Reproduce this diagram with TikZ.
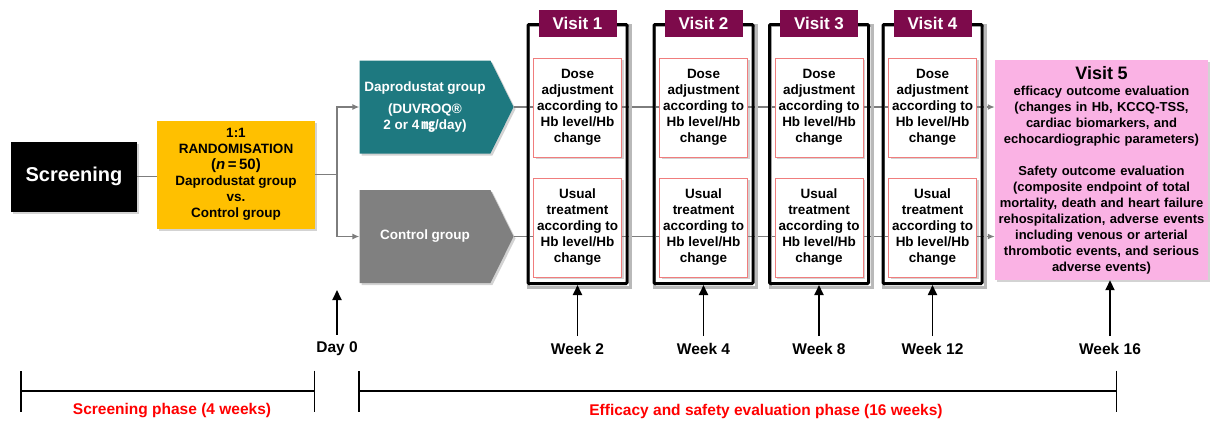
\documentclass[tikz,border=0pt]{standalone}
\usepackage{fontspec}
\setmainfont{Liberation Sans}
\newfontfamily\cjk{Noto Sans CJK SC}
\usepackage{tikz}
\usetikzlibrary{arrows.meta,shapes.symbols,shadows,backgrounds}

\definecolor{scrblack}{RGB}{0,0,0}
\definecolor{randyellow}{RGB}{255,192,0}
\definecolor{daproteal}{RGB}{30,121,128}
\definecolor{ctrlgray}{RGB}{128,128,128}
\definecolor{visitred}{RGB}{125,10,75}
\definecolor{visitpink}{RGB}{250,178,228}
\definecolor{boxline}{RGB}{240,125,125}
\definecolor{linkgray}{RGB}{125,125,125}

\begin{document}
\begin{tikzpicture}[x=1pt,y=-1pt,
    font=\bfseries\fontsize{13.5}{16}\selectfont,
    shade/.style={drop shadow={shadow xshift=2pt,shadow yshift=-2pt,opacity=.35}},
    scrbox/.style={fill=scrblack,text=white,minimum width=126,minimum height=70,
        font=\bfseries\fontsize{20}{24}\selectfont,shade},
    randbox/.style={fill=randyellow,minimum width=158,minimum height=108,
        align=center,inner sep=2pt,shade},
    groupbox/.style={shape=signal,signal to=east,signal pointer angle=127,
        text=white,minimum width=154,minimum height=93,align=center,shade},
    visitframe/.style={draw=black,line width=3pt,rounded corners=1pt,
        minimum width=99,minimum height=259},
    visitlbl/.style={fill=visitred,text=white,minimum width=78,minimum height=27,
        inner sep=0pt,font=\bfseries\fontsize{17}{20}\selectfont},
    inbox/.style={draw=boxline,fill=white,minimum width=88,minimum height=99,
        inner sep=1pt,align=center,shade},
    pinkbox/.style={fill=visitpink,minimum width=213,minimum height=220,
        text width=212,inner sep=0.5pt,align=center,
        font=\bfseries\fontsize{13}{16}\selectfont,shade},
    timelbl/.style={font=\bfseries\fontsize{15.5}{18}\selectfont,inner sep=2pt},
    phaselbl/.style={text=red,font=\bfseries\fontsize{15.5}{18}\selectfont,inner sep=2pt},
    grayline/.style={draw=linkgray,line width=1.5pt},
    grayarrow/.style={grayline,-{Latex[length=7pt,width=6pt]}},
    uparrow/.style={line width=1.8pt,-{Triangle[length=10pt,width=9pt]}},
    phasebar/.style={line width=1.5pt,{Bar[width=41pt]}-{Bar[width=41pt]}}]

\useasboundingbox (0,0) rectangle (1210,421);

\node[scrbox] (scr) at (74,176.5) {Screening};
\node[randbox] (rand) at (236,174.5) {1:1\\RANDOMISATION\\{\fontsize{15}{17}\selectfont(\textit{n}\,=\,50)}\\Daprodustat group\\vs.\\Control group};

\node[groupbox,fill=daproteal] (dapro) at (425,107) {Daprodustat group\\[6pt](DUVROQ®\\2 or 4\,{\cjk ㎎}/day)};
\node[groupbox,fill=ctrlgray] (ctrl) at (425,236.5) {Control group};

\draw[grayline] (scr.east) -- (scr.east -| rand.west);
\draw[grayline] (rand.east) -- ++(22,0) coordinate (split);
\draw[grayarrow] (split) |- (dapro.west);
\draw[grayarrow] (split) |- (ctrl.west);

\node[pinkbox] (v5) at (1101.5,170) {{\fontsize{18}{20}\selectfont Visit 5}\\efficacy outcome evaluation\\(changes in Hb, KCCQ-TSS,\\cardiac biomarkers, and\\echocardiographic parameters)\\[16pt]Safety outcome evaluation\\(composite endpoint of total\\mortality, death and heart failure\\rehospitalization, adverse events\\including venous or arterial\\thrombotic events, and serious\\adverse events)};

\foreach \i/\x/\w in {1/577.5/2,2/703.5/4,3/819/8,4/932.5/12}{
    \node[visitframe] (f\i) at (\x,154) {};
    \node[visitlbl] (v\i) at (\x,23.5) {Visit \i};
    \node[inbox] (d\i) at (\x,107.5) {Dose\\adjustment\\according to\\Hb level/Hb\\change};
    \node[inbox] (u\i) at (\x,227.5) {Usual\\treatment\\according to\\Hb level/Hb\\change};
    \node[timelbl] (w\i) at (\x,349) {Week \w};
    \draw[uparrow,shorten <=5pt] (w\i.north) -- (f\i.south);
}

\begin{scope}[on background layer]
\draw[grayarrow] (dapro.east) -- (dapro.east -| v5.west);
\draw[grayarrow] (ctrl.east) -- (ctrl.east -| v5.west);
\foreach \i in {1,2,3,4}
    \draw[gray!55,line width=3pt] ([shift={(2,2)}]f\i.south west) rectangle ([shift={(2,2)}]f\i.north east);
\end{scope}

\node[timelbl] (day0) at (337,349) {Day 0};
\coordinate (day0top) at (337,290);
\draw[uparrow,shorten <=5pt] (day0.north) -- (day0top);

\node[timelbl] (w5) at (1110,349) {Week 16};
\draw[uparrow,shorten <=5pt] (w5.north) -- (w5.north |- v5.south);

\coordinate (sa) at (20,391);
\coordinate (sb) at (315,391);
\coordinate (ea) at (358,391);
\coordinate (eb) at (1117,391);
\draw[phasebar] (sa) -- (sb);
\draw[phasebar] (ea) -- (eb);
\node[phaselbl] (sphase) at (172,411) {Screening phase (4 weeks)};
\node[phaselbl] (ephase) at (766,411) {Efficacy and safety evaluation phase (16 weeks)};

\end{tikzpicture}
\end{document}
